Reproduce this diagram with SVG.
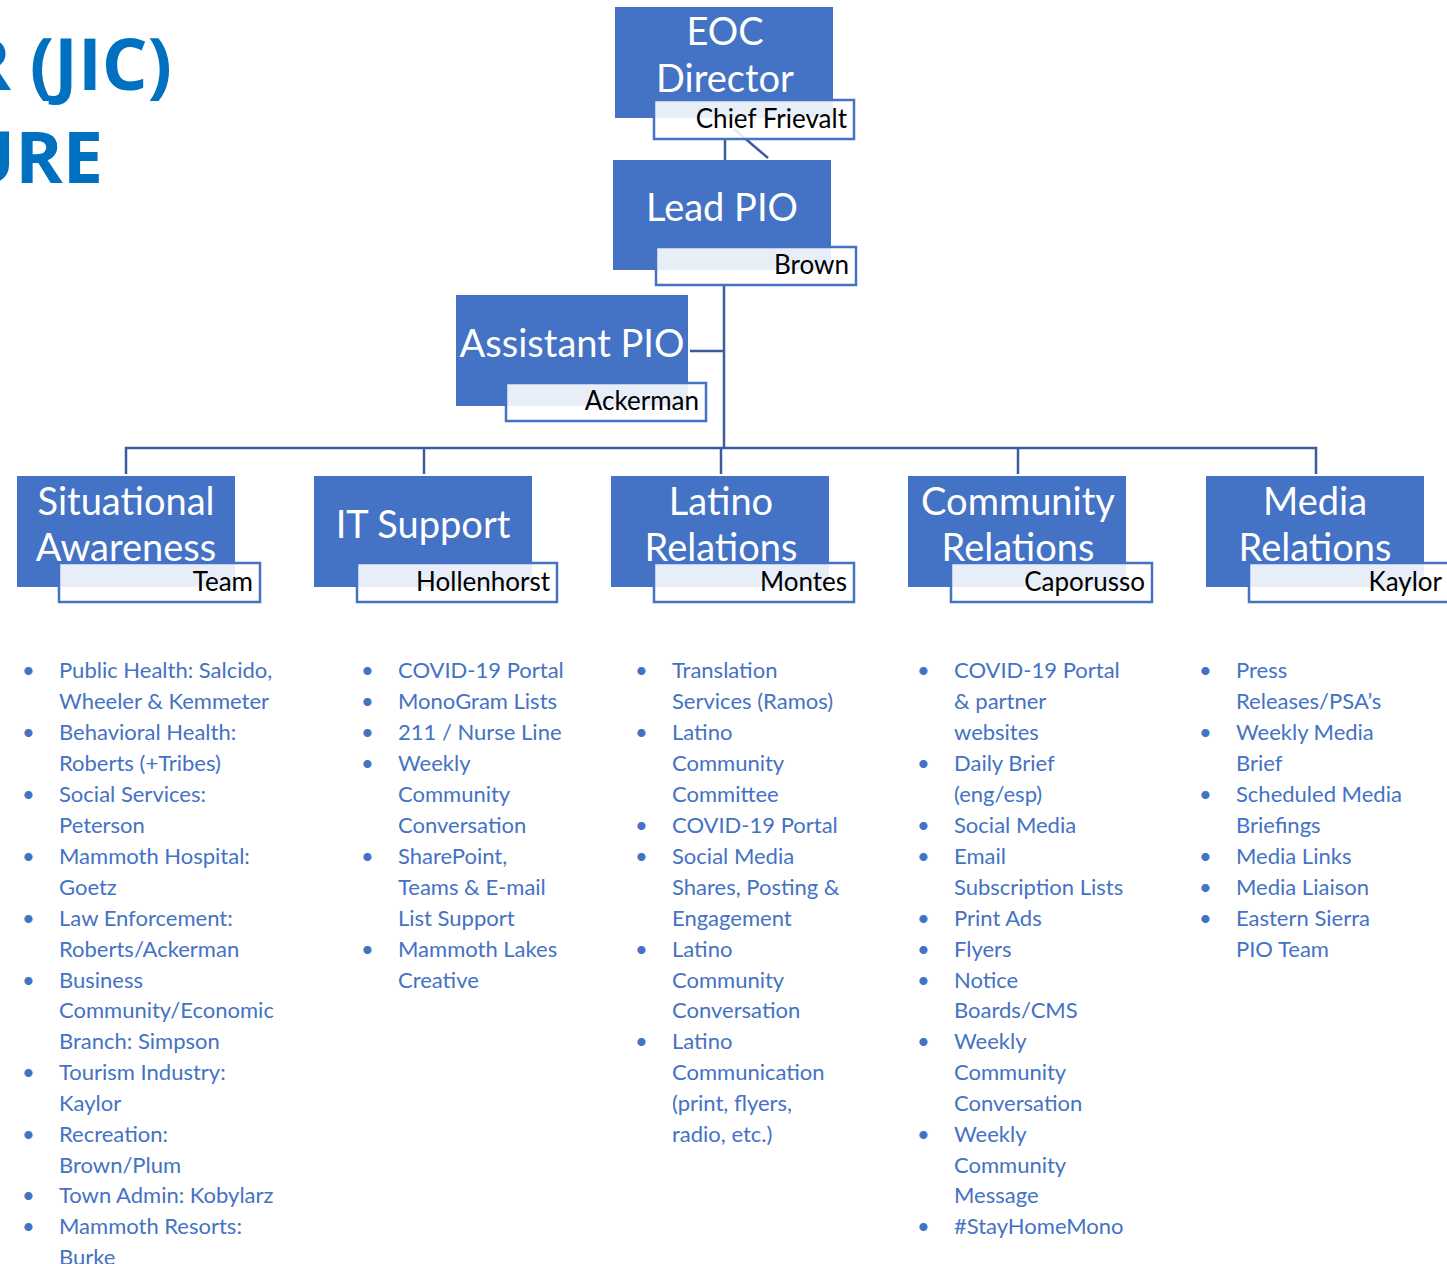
<svg xmlns="http://www.w3.org/2000/svg" width="1447" height="1264" viewBox="0 0 1447 1264">
  <style>
    .box { fill: #4472C4; }
    .tag { fill: #FFFFFF; fill-opacity: 0.88; stroke: #4472C4; stroke-width: 2.5; }
    .title { font-family: Lato, "Liberation Sans", sans-serif; font-size: 38px; fill: #FFFFFF; text-anchor: middle; }
    .name { font-family: Lato, "Liberation Sans", sans-serif; font-size: 26px; fill: #000000; text-anchor: end; }
    .wire { stroke: #3A5C9E; stroke-width: 2.5; fill: none; }
    .list { font-family: Lato, "Liberation Sans", sans-serif; font-size: 22px; fill: #4472C4; }
    .head { font-family: "Open Sans", "Liberation Sans", sans-serif; font-weight: bold; font-size: 72px; fill: #0070C0; text-anchor: end; }
  </style>

  <!-- page heading (runs off the left edge) -->
  <g id="heading">
    <text class="head" x="172" y="90">R (JIC)</text>
    <text class="head" x="103" y="183">URE</text>
  </g>

  <!-- connectors -->
  <g id="connectors">
    <line class="wire" x1="725" y1="139" x2="725" y2="160"/>
    <line class="wire" x1="734" y1="129" x2="768" y2="158"/>
    <line class="wire" x1="724" y1="285" x2="724" y2="448"/>
    <line class="wire" x1="690" y1="351" x2="724" y2="351"/>
    <polyline class="wire" points="126,474 126,448 1316,448 1316,474"/>
    <line class="wire" x1="424" y1="448" x2="424" y2="474"/>
    <line class="wire" x1="721" y1="448" x2="721" y2="474"/>
    <line class="wire" x1="1018" y1="448" x2="1018" y2="474"/>
  </g>

  <g id="eoc-director">
    <rect class="box" x="615" y="7" width="218" height="111"/>
    <text class="title" x="725" y="45">EOC</text>
    <text class="title" x="725" y="92">Director</text>
    <rect class="tag" x="654" y="100" width="200" height="39"/>
    <text class="name" x="847" y="128">Chief Frievalt</text>
  </g>

  <g id="lead-pio">
    <rect class="box" x="613" y="160" width="218" height="110"/>
    <text class="title" x="722" y="221">Lead PIO</text>
    <rect class="tag" x="656" y="247" width="200" height="38"/>
    <text class="name" x="849" y="274">Brown</text>
  </g>

  <g id="assistant-pio">
    <rect class="box" x="456" y="295" width="232" height="111"/>
    <text class="title" x="572" y="357">Assistant PIO</text>
    <rect class="tag" x="506" y="383" width="200" height="38"/>
    <text class="name" x="699" y="410">Ackerman</text>
  </g>

  <g id="situational-awareness">
    <rect class="box" x="17" y="476" width="218" height="111"/>
    <text class="title" x="126" y="515">Situational</text>
    <text class="title" x="126" y="561">Awareness</text>
    <rect class="tag" x="59" y="563" width="201" height="39"/>
    <text class="name" x="253" y="591">Team</text>
  </g>

  <g id="it-support">
    <rect class="box" x="314" y="476" width="218" height="111"/>
    <text class="title" x="423" y="538">IT Support</text>
    <rect class="tag" x="357" y="563" width="200" height="39"/>
    <text class="name" x="550" y="591">Hollenhorst</text>
  </g>

  <g id="latino-relations">
    <rect class="box" x="611" y="476" width="218" height="111"/>
    <text class="title" x="721" y="515">Latino</text>
    <text class="title" x="721" y="561">Relations</text>
    <rect class="tag" x="654" y="563" width="200" height="39"/>
    <text class="name" x="847" y="591">Montes</text>
  </g>

  <g id="community-relations">
    <rect class="box" x="908" y="476" width="218" height="111"/>
    <text class="title" x="1018" y="515">Community</text>
    <text class="title" x="1018" y="561">Relations</text>
    <rect class="tag" x="951" y="563" width="201" height="39"/>
    <text class="name" x="1145" y="591">Caporusso</text>
  </g>

  <g id="media-relations">
    <rect class="box" x="1206" y="476" width="218" height="111"/>
    <text class="title" x="1315" y="515">Media</text>
    <text class="title" x="1315" y="561">Relations</text>
    <rect class="tag" x="1249" y="563" width="202" height="39"/>
    <text class="name" x="1442" y="591">Kaylor</text>
  </g>

  <!-- task lists under each team -->
  <g id="list-situational" class="list">
    <text x="22" y="678">•</text><text x="59" y="678">Public Health: Salcido,</text>
    <text x="59" y="709">Wheeler &amp; Kemmeter</text>
    <text x="22" y="740">•</text><text x="59" y="740">Behavioral Health:</text>
    <text x="59" y="771">Roberts (+Tribes)</text>
    <text x="22" y="802">•</text><text x="59" y="802">Social Services:</text>
    <text x="59" y="833">Peterson</text>
    <text x="22" y="864">•</text><text x="59" y="864">Mammoth Hospital:</text>
    <text x="59" y="895">Goetz</text>
    <text x="22" y="926">•</text><text x="59" y="926">Law Enforcement:</text>
    <text x="59" y="957">Roberts/Ackerman</text>
    <text x="22" y="988">•</text><text x="59" y="988">Business</text>
    <text x="59" y="1018">Community/Economic</text>
    <text x="59" y="1049">Branch: Simpson</text>
    <text x="22" y="1080">•</text><text x="59" y="1080">Tourism Industry:</text>
    <text x="59" y="1111">Kaylor</text>
    <text x="22" y="1142">•</text><text x="59" y="1142">Recreation:</text>
    <text x="59" y="1173">Brown/Plum</text>
    <text x="22" y="1203">•</text><text x="59" y="1203">Town Admin: Kobylarz</text>
    <text x="22" y="1234">•</text><text x="59" y="1234">Mammoth Resorts:</text>
    <text x="59" y="1265">Burke</text>
  </g>

  <g id="list-it" class="list">
    <text x="361" y="678">•</text><text x="398" y="678">COVID-19 Portal</text>
    <text x="361" y="709">•</text><text x="398" y="709">MonoGram Lists</text>
    <text x="361" y="740">•</text><text x="398" y="740">211 / Nurse Line</text>
    <text x="361" y="771">•</text><text x="398" y="771">Weekly</text>
    <text x="398" y="802">Community</text>
    <text x="398" y="833">Conversation</text>
    <text x="361" y="864">•</text><text x="398" y="864">SharePoint,</text>
    <text x="398" y="895">Teams &amp; E-mail</text>
    <text x="398" y="926">List Support</text>
    <text x="361" y="957">•</text><text x="398" y="957">Mammoth Lakes</text>
    <text x="398" y="988">Creative</text>
  </g>

  <g id="list-latino" class="list">
    <text x="635" y="678">•</text><text x="672" y="678">Translation</text>
    <text x="672" y="709">Services (Ramos)</text>
    <text x="635" y="740">•</text><text x="672" y="740">Latino</text>
    <text x="672" y="771">Community</text>
    <text x="672" y="802">Committee</text>
    <text x="635" y="833">•</text><text x="672" y="833">COVID-19 Portal</text>
    <text x="635" y="864">•</text><text x="672" y="864">Social Media</text>
    <text x="672" y="895">Shares, Posting &amp;</text>
    <text x="672" y="926">Engagement</text>
    <text x="635" y="957">•</text><text x="672" y="957">Latino</text>
    <text x="672" y="988">Community</text>
    <text x="672" y="1018">Conversation</text>
    <text x="635" y="1049">•</text><text x="672" y="1049">Latino</text>
    <text x="672" y="1080">Communication</text>
    <text x="672" y="1111">(print, flyers,</text>
    <text x="672" y="1142">radio, etc.)</text>
  </g>

  <g id="list-community" class="list">
    <text x="917" y="678">•</text><text x="954" y="678">COVID-19 Portal</text>
    <text x="954" y="709">&amp; partner</text>
    <text x="954" y="740">websites</text>
    <text x="917" y="771">•</text><text x="954" y="771">Daily Brief</text>
    <text x="954" y="802">(eng/esp)</text>
    <text x="917" y="833">•</text><text x="954" y="833">Social Media</text>
    <text x="917" y="864">•</text><text x="954" y="864">Email</text>
    <text x="954" y="895">Subscription Lists</text>
    <text x="917" y="926">•</text><text x="954" y="926">Print Ads</text>
    <text x="917" y="957">•</text><text x="954" y="957">Flyers</text>
    <text x="917" y="988">•</text><text x="954" y="988">Notice</text>
    <text x="954" y="1018">Boards/CMS</text>
    <text x="917" y="1049">•</text><text x="954" y="1049">Weekly</text>
    <text x="954" y="1080">Community</text>
    <text x="954" y="1111">Conversation</text>
    <text x="917" y="1142">•</text><text x="954" y="1142">Weekly</text>
    <text x="954" y="1173">Community</text>
    <text x="954" y="1203">Message</text>
    <text x="917" y="1234">•</text><text x="954" y="1234">#StayHomeMono</text>
  </g>

  <g id="list-media" class="list">
    <text x="1199" y="678">•</text><text x="1236" y="678">Press</text>
    <text x="1236" y="709">Releases/PSA’s</text>
    <text x="1199" y="740">•</text><text x="1236" y="740">Weekly Media</text>
    <text x="1236" y="771">Brief</text>
    <text x="1199" y="802">•</text><text x="1236" y="802">Scheduled Media</text>
    <text x="1236" y="833">Briefings</text>
    <text x="1199" y="864">•</text><text x="1236" y="864">Media Links</text>
    <text x="1199" y="895">•</text><text x="1236" y="895">Media Liaison</text>
    <text x="1199" y="926">•</text><text x="1236" y="926">Eastern Sierra</text>
    <text x="1236" y="957">PIO Team</text>
  </g>
</svg>
